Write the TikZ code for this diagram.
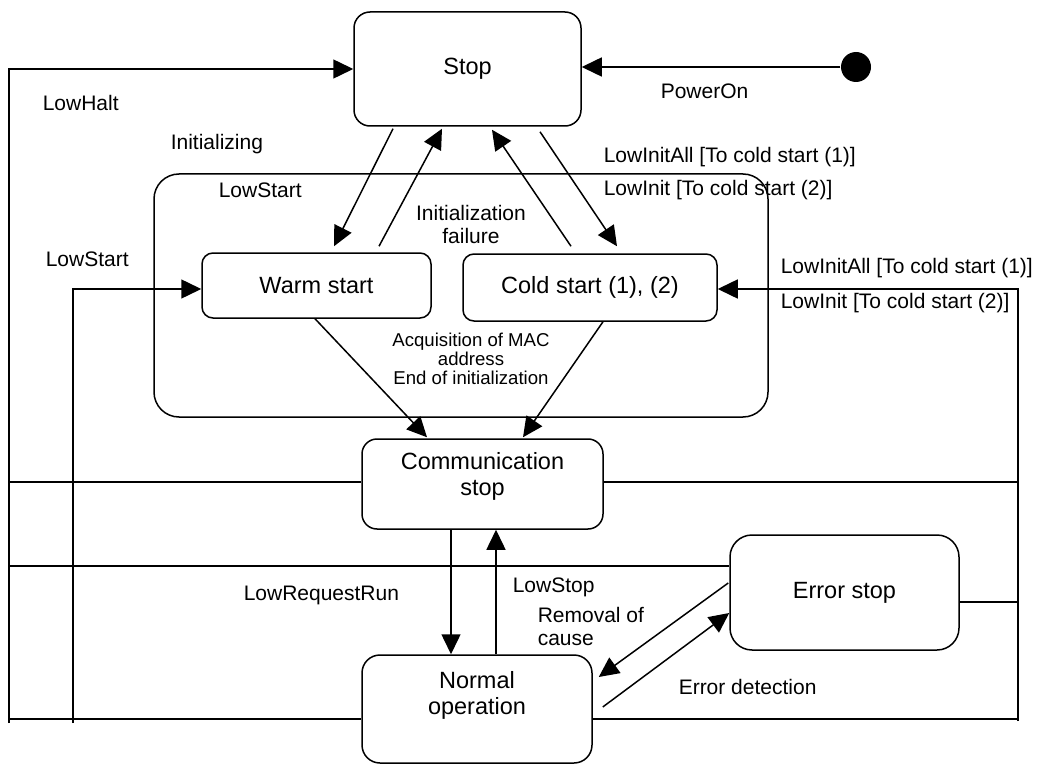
\documentclass[tikz,border=0pt]{standalone}
\usepackage{fontspec}
\setmainfont{Liberation Sans}
\usetikzlibrary{arrows.meta,calc}
\begin{document}
\begin{tikzpicture}[x=1pt,y=-1pt,
  line width=1.5pt,
  state/.style={draw, inner sep=0pt, align=center,
    font=\fontsize{23.5}{26}\selectfont},
  statetext/.style={inner sep=0pt, align=center,
    font=\fontsize{23.5}{26}\selectfont},
  lbl/.style={inner sep=0pt, anchor=west, font=\fontsize{21}{23}\selectfont},
  clbl/.style={inner sep=0pt, align=center, font=\fontsize{21}{23}\selectfont},
  arr/.style={-{Triangle[length=20pt,width=19pt]}},
]
\useasboundingbox (0,0) rectangle (1037,765);

% composite state and states
\node[draw, rounded corners=25pt, minimum width=614pt, minimum height=243pt] (comp) at (461,295.5) {};
\node[state, rounded corners=16pt, minimum width=227pt, minimum height=114pt] (stop) at (467.5,69) {Stop};
\node[state, rounded corners=11pt, minimum width=229pt, minimum height=65pt] (warm) at (316.5,285.5) {Warm start};
\node[state, rounded corners=11pt, minimum width=254pt, minimum height=67pt] (cold) at (590,287.5) {Cold start (1), (2)};
\node[state, rounded corners=15pt, minimum width=241pt, minimum height=90pt] (comm) at (482.5,484) {};
\node[statetext] (commtxt) at (482.5,476) {Communication\\stop};
\node[state, rounded corners=18pt, minimum width=230pt, minimum height=108pt] (norm) at (477,709) {};
\node[statetext] (normtxt) at (477,695.5) {Normal\\operation};
\node[state, rounded corners=22pt, minimum width=229pt, minimum height=115pt] (err) at (844.5,592.5) {Error stop};
\node[circle, fill, minimum size=30pt, inner sep=0pt] (dot) at (856,67) {};

% free ends of the long bus lines
\coordinate (lhb) at (9,723);
\coordinate (lsb) at (73,723);
\coordinate (rb) at (1018,721);
\coordinate (h1l) at (9,482);
\coordinate (h1r) at (1018,482);
\coordinate (h2l) at (9,566);
\coordinate (h3r) at (1018,602);
\coordinate (h4l) at (9,719);
\coordinate (h4r) at (1018,719);

% power on
\draw[arr] (dot.west) -- (dot -| stop.east);

% bus lines and their arrows
\draw[arr] (lhb) |- (stop.west);
\draw[arr] (lsb) |- ($(warm.west)+(0,3.5)$);
\draw[arr] (rb) |- ($(cold.east)+(0,1.5)$);
\draw (h1l) -- (h1l -| comm.west);
\draw (h1r -| comm.east) -- (h1r);
\draw (h2l) -- (h2l -| err.west);
\draw (h3r -| err.east) -- (h3r);
\draw (h4l) -- (h4l -| norm.west);
\draw (h4r -| norm.east) -- (h4r);

% transitions between stop and the start states
\draw[arr] ($(stop.south)+(-74.5,2)$) -- ($(warm.north)+(17.5,-6)$);
\draw[arr] ($(warm.north)+(62.5,-6)$) -- ($(stop.south)+(-25.5,2)$);
\draw[arr] ($(cold.north)+(-19,-7)$) -- ($(stop.south)+(24.5,3)$);
\draw[arr] ($(stop.south)+(72.5,5)$) -- ($(cold.north)+(27,-7)$);

% start states to communication stop
\draw[arr] ($(warm.south)+(-1.5,0)$) -- ($(comm.north)+(-55.5,-1)$);
\draw[arr] ($(cold.south)+(13,0)$) -- ($(comm.north)+(40.5,-1)$);

% communication stop and normal operation
\draw[arr] ($(comm.south)+(-31.5,0)$) -- ($(norm.north)+(-26,0)$);
\draw[arr] ($(norm.north)+(19,0)$) -- ($(comm.south)+(13.5,0)$);

% normal operation and error stop
\draw[arr] ($(err.west)+(-1,-9.5)$) -- ($(norm.east)+(6,-32)$);
\draw[arr] ($(norm.east)+(10,-2)$) -- ($(err.west)+(0,20.5)$);

% labels
\node[lbl] (tPowerOn) at (660,91) {PowerOn};
\node[lbl] (tLowHalt) at (42,103) {LowHalt};
\node[lbl] (tInit) at (170,144) {Initializing};
\node[lbl] (tLowStartIn) at (218,190) {LowStart};
\node[lbl] (tLowStartOut) at (45,259) {LowStart};
\node[clbl] (tFail) at (471,224.5) {Initialization\\failure};
\node[lbl] (tInitAllA) at (603,157) {LowInitAll [To cold start (1)]};
\node[lbl] (tInitA) at (603,190) {LowInit [To cold start (2)]};
\node[lbl] (tInitAllB) at (780,268) {LowInitAll [To cold start (1)]};
\node[lbl] (tInitB) at (780,303) {LowInit [To cold start (2)]};
\node[inner sep=0pt, align=center, font=\fontsize{18.6}{19}\selectfont] (tMac) at (471,359) {Acquisition of MAC\\address\\End of initialization};
\node[lbl] (tReqRun) at (243,595) {LowRequestRun};
\node[lbl] (tLowStop) at (512,587) {LowStop};
\node[inner sep=0pt, anchor=west, align=left, font=\fontsize{21}{23}\selectfont] (tRemoval) at (537,626.5) {Removal of\\cause};
\node[lbl] (tErrDet) at (678,687) {Error detection};
\end{tikzpicture}
\end{document}
